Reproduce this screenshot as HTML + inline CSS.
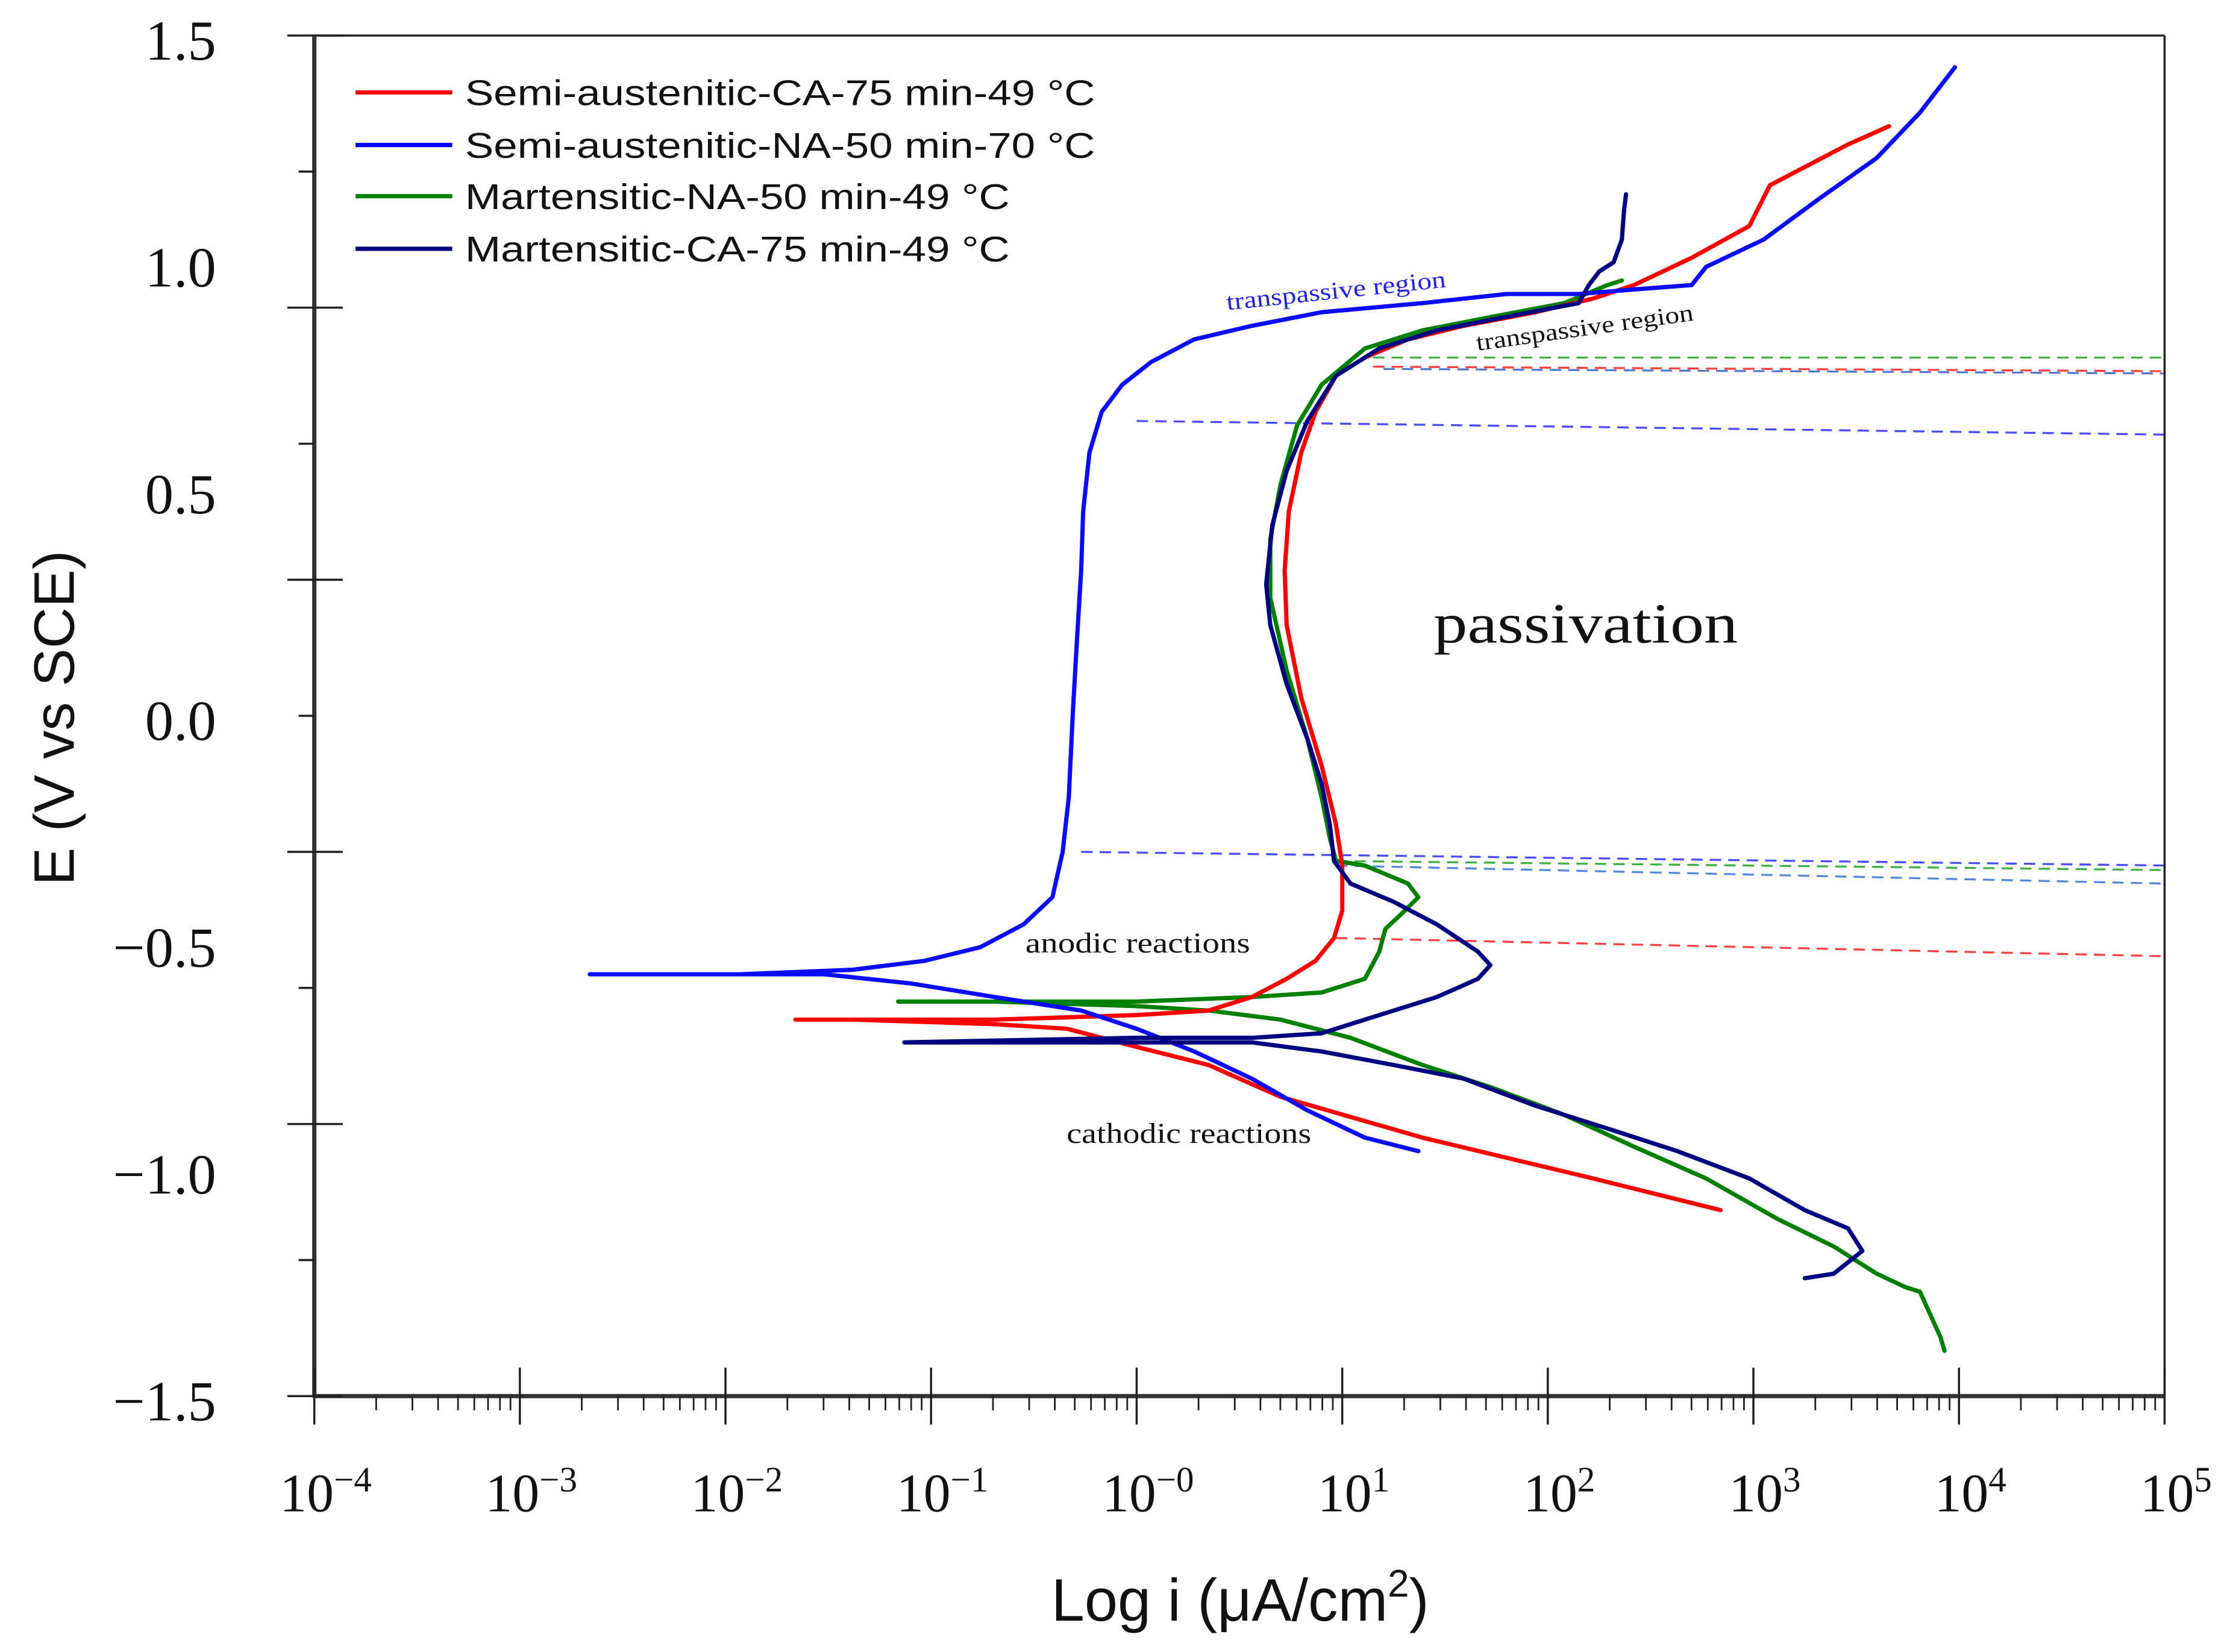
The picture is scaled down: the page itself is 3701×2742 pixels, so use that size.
<!DOCTYPE html>
<html><head><meta charset="utf-8"><style>
html,body{margin:0;padding:0;background:#fff;}
svg{display:block;}
</style></head><body>
<svg id="chart" width="3701" height="2742" viewBox="0 0 1568 1162" preserveAspectRatio="none" xmlns="http://www.w3.org/2000/svg">
<rect x="0" y="0" width="1568" height="1162" fill="#fff"/>
<g id="grid"></g>
<g id="curves"></g>
<g id="axes"></g>
<g id="legend" font-family="Liberation Sans, sans-serif" font-size="25" fill="#111">
  <line x1="250" y1="65" x2="318" y2="65" stroke="#ff0000" stroke-width="3"/>
  <text x="327" y="74" textLength="443" lengthAdjust="spacingAndGlyphs">Semi-austenitic-CA-75 min-49 °C</text>
  <line x1="250" y1="102" x2="318" y2="102" stroke="#0000ff" stroke-width="3"/>
  <text x="327" y="111" textLength="443" lengthAdjust="spacingAndGlyphs">Semi-austenitic-NA-50 min-70 °C</text>
  <line x1="250" y1="138" x2="318" y2="138" stroke="#008000" stroke-width="3"/>
  <text x="327" y="147" textLength="383" lengthAdjust="spacingAndGlyphs">Martensitic-NA-50 min-49 °C</text>
  <line x1="250" y1="175" x2="318" y2="175" stroke="#000080" stroke-width="3"/>
  <text x="327" y="184" textLength="383" lengthAdjust="spacingAndGlyphs">Martensitic-CA-75 min-49 °C</text>
</g>
<g id="annotations" font-family="Liberation Serif, serif">
  <text x="940" y="210" font-size="17" fill="#2222ee" text-anchor="middle" textLength="155" lengthAdjust="spacingAndGlyphs" transform="rotate(-6 940 210)">transpassive region</text>
  <text x="1115" y="236" font-size="17" fill="#111" text-anchor="middle" textLength="154" lengthAdjust="spacingAndGlyphs" transform="rotate(-8 1115 236)">transpassive region</text>
  <text x="1115" y="452" font-size="40" fill="#111" text-anchor="middle" textLength="214" lengthAdjust="spacingAndGlyphs">passivation</text>
  <text x="800" y="670" font-size="20" fill="#111" text-anchor="middle" textLength="158" lengthAdjust="spacingAndGlyphs">anodic reactions</text>
  <text x="836" y="804" font-size="20" fill="#111" text-anchor="middle" textLength="172" lengthAdjust="spacingAndGlyphs">cathodic reactions</text>
</g>
<text x="52" y="505" font-family="Liberation Sans, sans-serif" font-size="40" fill="#111" text-anchor="middle" transform="rotate(-90 52 505)">E (V vs SCE)</text>
<text x="872" y="1140" font-family="Liberation Sans, sans-serif" font-size="42" fill="#111" text-anchor="middle">Log i (μA/cm<tspan dy="-17" font-size="27">2</tspan><tspan dy="17">)</tspan></text>
</svg>
<script>
const xLogTicks=[-4,-3,-2,-1,0,1,2,3,4,5];
const xTickLabels=["−4","−3","−2","−1","−0","1","2","3","4","5"];
const yLabelValues=[1.5,1.0,0.5,0.0,-0.5,-1.0,-1.5];
const yLabelText=["1.5","1.0","0.5","0.0","−0.5","−1.0","−1.5"];
const yMajorTicks=[1.5,0.9,0.3,-0.3,-0.9,-1.5];
const yMinorTicks=[1.2,0.6,0.0,-0.6,-1.2];
// series: [log i, E]
const redSeries=[[2.84,-1.09],[2.22,-1.02],[1.39,-0.93],[0.70,-0.84],[0.35,-0.77],[0,-0.73],[-0.34,-0.69],[-0.69,-0.68],[-1.38,-0.67],[-1.66,-0.67],[-0.69,-0.67],[0,-0.66],[0.35,-0.65],[0.56,-0.62],[0.73,-0.58],[0.87,-0.54],[0.96,-0.49],[1.00,-0.43],[1.00,-0.33],[0.97,-0.24],[0.90,-0.11],[0.80,0.04],[0.73,0.20],[0.72,0.32],[0.74,0.45],[0.80,0.58],[0.87,0.67],[0.97,0.75],[1.11,0.79],[1.32,0.83],[1.59,0.86],[1.94,0.89],[2.22,0.92],[2.42,0.95],[2.70,1.01],[2.98,1.08],[3.08,1.17],[3.25,1.21],[3.46,1.26],[3.66,1.30]];
const blueSeries=[[1.37,-0.96],[1.11,-0.93],[0.83,-0.87],[0.56,-0.80],[0.28,-0.74],[0,-0.69],[-0.27,-0.65],[-0.69,-0.62],[-1.10,-0.59],[-1.52,-0.57],[-1.93,-0.57],[-2.66,-0.57],[-1.93,-0.57],[-1.38,-0.56],[-1.03,-0.54],[-0.76,-0.51],[-0.55,-0.46],[-0.41,-0.40],[-0.36,-0.30],[-0.33,-0.18],[-0.31,0.01],[-0.29,0.17],[-0.27,0.32],[-0.26,0.45],[-0.23,0.58],[-0.17,0.67],[-0.07,0.73],[0.07,0.78],[0.28,0.83],[0.56,0.86],[0.90,0.89],[1.39,0.91],[1.80,0.93],[2.15,0.93],[2.42,0.94],[2.70,0.95],[2.77,0.99],[3.05,1.05],[3.32,1.14],[3.60,1.23],[3.81,1.33],[3.98,1.43]];
const greenSeries=[[3.93,-1.40],[3.91,-1.37],[3.81,-1.27],[3.74,-1.26],[3.60,-1.23],[3.39,-1.17],[3.12,-1.11],[2.77,-1.02],[2.42,-0.95],[2.08,-0.88],[1.73,-0.82],[1.39,-0.77],[1.04,-0.71],[0.70,-0.67],[0.35,-0.65],[0,-0.64],[-0.69,-0.63],[-1.16,-0.63],[0,-0.63],[0.56,-0.62],[0.90,-0.61],[1.11,-0.58],[1.18,-0.52],[1.21,-0.47],[1.28,-0.44],[1.37,-0.40],[1.32,-0.37],[1.11,-0.33],[0.97,-0.32],[0.94,-0.27],[0.90,-0.18],[0.83,-0.05],[0.73,0.10],[0.65,0.26],[0.65,0.39],[0.70,0.51],[0.78,0.64],[0.90,0.73],[1.11,0.81],[1.39,0.85],[1.73,0.88],[2.08,0.91],[2.29,0.95],[2.36,0.96]];
const navySeries=[[3.25,-1.24],[3.39,-1.23],[3.53,-1.18],[3.46,-1.13],[3.25,-1.09],[2.98,-1.02],[2.63,-0.96],[2.29,-0.91],[1.94,-0.86],[1.59,-0.80],[1.25,-0.77],[0.90,-0.74],[0.56,-0.72],[0,-0.72],[-0.69,-0.72],[-1.13,-0.72],[0,-0.71],[0.56,-0.71],[0.90,-0.70],[1.18,-0.66],[1.46,-0.62],[1.66,-0.58],[1.72,-0.55],[1.66,-0.52],[1.46,-0.46],[1.25,-0.41],[1.04,-0.37],[0.96,-0.32],[0.94,-0.24],[0.90,-0.15],[0.83,-0.05],[0.73,0.07],[0.65,0.20],[0.63,0.29],[0.66,0.42],[0.73,0.54],[0.83,0.65],[0.97,0.75],[1.18,0.81],[1.46,0.85],[1.80,0.88],[2.15,0.91],[2.20,0.95],[2.25,0.98],[2.32,1.00],[2.36,1.05],[2.37,1.11],[2.38,1.15]];
const dashBlueUpper=[[0,0.65],[5,0.62]];
const dashRedUpper=[[1.15,0.77],[5,0.76]];
const dashGreenUpper=[[1.15,0.79],[5,0.79]];
const dashNavyUpper=[[1.2,0.765],[5,0.755]];
const dashBlueLower=[[-0.27,-0.30],[5,-0.33]];
const dashGreenLower=[[0.97,-0.32],[5,-0.34]];
const dashNavyLower=[[0.97,-0.33],[5,-0.37]];
const dashRedLower=[[0.97,-0.49],[5,-0.53]];

const L=221,R=1522,T=25,B=982;
function sx(l){return L+(l+4)*(R-L)/9;}
function sy(e){return T+(1.5-e)*(B-T)/3;}
const NS="http://www.w3.org/2000/svg";
function mk(tag,parent,attrs){const el=document.createElementNS(NS,tag);for(const k in attrs)el.setAttribute(k,attrs[k]);parent.appendChild(el);return el;}
const curves=document.getElementById('curves');
const axes=document.getElementById('axes');
function pathOf(s){return s.map((p,i)=>(i?'L':'M')+sx(p[0]).toFixed(1)+','+sy(p[1]).toFixed(1)).join(' ');}

const dashes=[[dashBlueUpper,'#4b4bff','dash-blue-upper'],[dashRedUpper,'#ff4040','dash-red-upper'],[dashGreenUpper,'#40b040','dash-green-upper'],[dashNavyUpper,'#5577cc','dash-navy-upper'],[dashBlueLower,'#4b4bff','dash-blue-lower'],[dashGreenLower,'#40b040','dash-green-lower'],[dashNavyLower,'#5588dd','dash-navy-lower'],[dashRedLower,'#ff4040','dash-red-lower']];
dashes.forEach(d=>{
  const el=mk('path',curves,{d:pathOf(d[0]),stroke:d[1],'stroke-width':1.4,fill:'none','stroke-dasharray':'8 5'});
  
  
});
const series=[[greenSeries,'#008000','series-martensitic-na'],[redSeries,'#ff0000','series-semi-austenitic-ca'],[blueSeries,'#0a0aff','series-semi-austenitic-na'],[navySeries,'#000080','series-martensitic-ca']];
series.forEach(s=>{
  const el=mk('path',curves,{d:pathOf(s[0]),stroke:s[1],'stroke-width':3,fill:'none','stroke-linejoin':'round','stroke-linecap':'round'});
  
  
});

let f=mk('line',axes,{x1:L,y1:T,x2:R,y2:T,stroke:'#222','stroke-width':1.5});


f=mk('line',axes,{x1:R,y1:T,x2:R,y2:B,stroke:'#222','stroke-width':1.5});


f=mk('line',axes,{x1:L,y1:T,x2:L,y2:B+1,stroke:'#333','stroke-width':3});


f=mk('line',axes,{x1:L-1,y1:B,x2:R,y2:B,stroke:'#333','stroke-width':3});



yMajorTicks.forEach(v=>{
  const el=mk('line',axes,{x1:L-19,y1:sy(v),x2:L+20,y2:sy(v),stroke:'#222','stroke-width':1.5});
  
  
});
yMinorTicks.forEach(v=>{
  const el=mk('line',axes,{x1:L-11,y1:sy(v),x2:L,y2:sy(v),stroke:'#222','stroke-width':1.5});
  
  
});
yLabelValues.forEach((v,i)=>{
  const el=mk('text',axes,{x:152,y:sy(v)+17,'font-family':'Liberation Serif, serif','font-size':40,fill:'#111','text-anchor':'end'});
  el.textContent=yLabelText[i];
  
  
});
xLogTicks.forEach((v,i)=>{
  const el=mk('line',axes,{x1:sx(v),y1:B-20,x2:sx(v),y2:B+20,stroke:'#222','stroke-width':1.5});
  
  
  if(v<5){for(let m=2;m<=9;m++){
    const xm=sx(v+Math.log10(m));
    const mt=mk('line',axes,{x1:xm,y1:B,x2:xm,y2:B+10,stroke:'#222','stroke-width':1.2});
    
    
  }}
  const t=mk('text',axes,{x:sx(v)+8,y:1063,'font-family':'Liberation Serif, serif','font-size':38,fill:'#111','text-anchor':'middle'});
  t.innerHTML='10<tspan dy="-14" font-size="25">'+xTickLabels[i]+'</tspan>';
  
  
});
</script>
</body></html>
